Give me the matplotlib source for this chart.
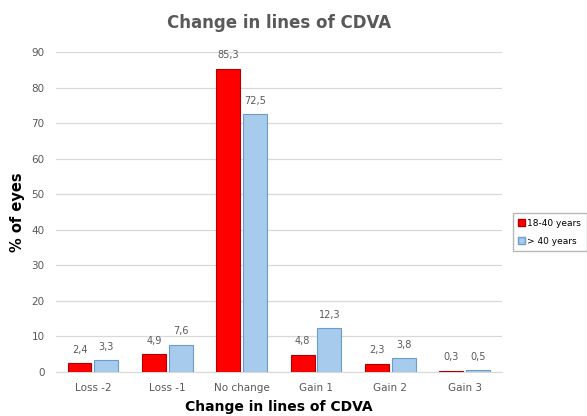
import matplotlib.pyplot as plt
import numpy as np
from matplotlib.patches import Patch

categories = ['Loss -2', 'Loss -1', 'No change', 'Gain 1', 'Gain 2', 'Gain 3']
young = [2.4, 4.9, 85.3, 4.8, 2.3, 0.3]
older = [3.3, 7.6, 72.5, 12.3, 3.8, 0.5]
series_names = ['18-40 years', '> 40 years']

fig = plt.figure(figsize=(5.87, 4.16), dpi=100)
ax = fig.add_axes([0.095, 0.106, 0.76, 0.769])

x = np.arange(len(categories))
w = 0.32
b1 = ax.bar(x - 0.18, young, w, color='#FF0000', edgecolor='#B00000', linewidth=0.8, zorder=3)
b2 = ax.bar(x + 0.18, older, w, color='#A7CBEC', edgecolor='#6D9CC8', linewidth=0.8, zorder=3)

def fmt(v):
    return f'{v:.1f}'.replace('.', ',')

for bars, vals in ((b1, young), (b2, older)):
    for r, v in zip(bars, vals):
        ax.text(r.get_x() + r.get_width() / 2, v + 2.4, fmt(v), ha='center', va='bottom',
                fontsize=7, color='#595959')

ax.set_ylim(0, 90)
ax.set_xlim(-0.5, len(categories) - 0.5)
ax.set_yticks(range(0, 91, 10))
ax.set_xticks(x)
ax.set_xticklabels(categories)
ax.tick_params(length=0, labelsize=7.5, colors='#595959', pad=8)
ax.yaxis.grid(True, color='#D9D9D9', linewidth=0.9, zorder=0)
for s in ('top', 'right', 'left'):
    ax.spines[s].set_visible(False)
ax.spines['bottom'].set_color('#D9D9D9')

ax.set_title('Change in lines of CDVA', fontsize=12, fontweight='bold', color='#595959', pad=17)
ax.set_ylabel('% of eyes', fontsize=10.5, fontweight='bold')
ax.yaxis.set_label_coords(-0.068, 0.5)
ax.set_xlabel('Change in lines of CDVA', fontsize=10, fontweight='bold', labelpad=5)

handles = [Patch(facecolor='#FF0000', edgecolor='#B00000'),
           Patch(facecolor='#A7CBEC', edgecolor='#6D9CC8')]
fig.legend(handles, series_names, loc='center left', bbox_to_anchor=(0.866, 0.442),
           fontsize=6.5, frameon=True, fancybox=False, edgecolor='#A6A6A6',
           handlelength=0.7, handleheight=0.7, handletextpad=0.3, borderpad=0.6, labelspacing=1.0)

fig.savefig('out.png', dpi=100)
